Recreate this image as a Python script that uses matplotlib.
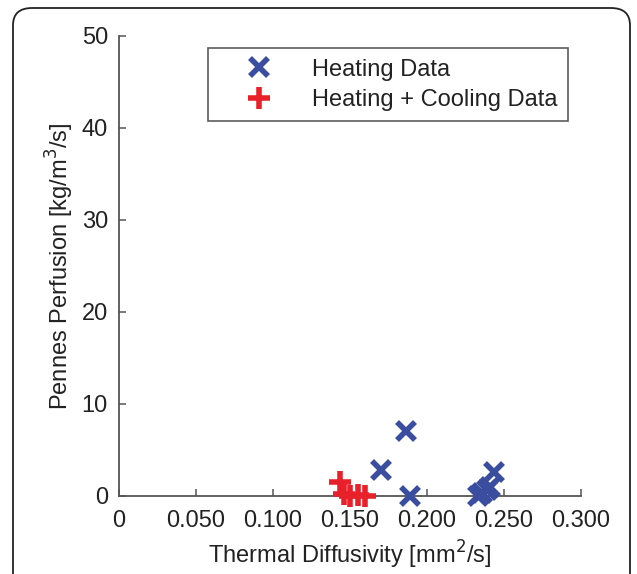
import matplotlib
matplotlib.use("Agg")
import matplotlib.pyplot as plt
from matplotlib.patches import FancyBboxPatch

plt.rcParams['font.family'] = ['Liberation Sans', 'DejaVu Sans']

# Heating-only fits
heat_x = [0.1864, 0.170, 0.189, 0.233, 0.236, 0.239, 0.241, 0.2435]
heat_y = [7.1, 2.8, 0.0, 0.0, 0.3, 0.7, 1.0, 2.6]

# Heating + cooling fits
hc_x = [0.1435, 0.146, 0.150, 0.155, 0.160]
hc_y = [1.5, 0.2, 0.0, 0.1, 0.0]

xticks = [0, 0.05, 0.10, 0.15, 0.20, 0.25, 0.30]
xticklabels = ['0', '0.050', '0.100', '0.150', '0.200', '0.250', '0.300']
yticks = [0, 10, 20, 30, 40, 50]

blue = '#3a4d9f'
red = '#e8202a'

fig = plt.figure(figsize=(6.37, 5.74), dpi=100)

# rounded frame around the panel
frame = FancyBboxPatch((13 / 637, -0.05), 617 / 637, 1 - 8 / 574 + 0.05,
                       boxstyle="round,pad=0,rounding_size=0.03",
                       transform=fig.transFigure, fill=False,
                       edgecolor='#222222', linewidth=1.3, clip_on=False)
fig.patches.append(frame)

ax = fig.add_axes([119 / 637, 1 - 496 / 574, (581 - 119) / 637, (496 - 36) / 574])

ax.plot(heat_x, heat_y, linestyle='none', marker='x', markersize=13,
        markeredgewidth=4, color=blue, label='Heating Data', clip_on=False, zorder=3)
ax.plot(hc_x, hc_y, linestyle='none', marker='+', markersize=16,
        markeredgewidth=4, color=red, label='Heating + Cooling Data', clip_on=False, zorder=3)

ax.set_xlim(0, 0.30)
ax.set_ylim(0, 50)
ax.set_xticks(xticks)
ax.set_xticklabels(xticklabels)
ax.set_yticks(yticks)

for s in ['top', 'right']:
    ax.spines[s].set_visible(False)
for s in ['left', 'bottom']:
    ax.spines[s].set_color('#555555')
    ax.spines[s].set_linewidth(1.3)

ax.tick_params(direction='in', length=5, width=1.1, color='#555555',
               labelsize=17, labelcolor='#222222', pad=8)
ax.tick_params(axis='x', pad=10)

ax.set_xlabel('Thermal Diffusivity [mm$^2$/s]', fontsize=17, color='#222222', labelpad=5)
ax.set_ylabel('Pennes Perfusion [kg/m$^3$/s]', fontsize=17, color='#222222', labelpad=4)

leg = ax.legend(loc='upper right', bbox_to_anchor=(0.972, 0.974), fontsize=17,
                frameon=True, fancybox=False, edgecolor='#333333',
                handlelength=3.4, handletextpad=0.55, borderpad=0.45,
                labelspacing=0.35, borderaxespad=0)
leg.get_frame().set_linewidth(1.2)
for t in leg.get_texts():
    t.set_color('#222222')

fig.savefig('out.png', dpi=100)
